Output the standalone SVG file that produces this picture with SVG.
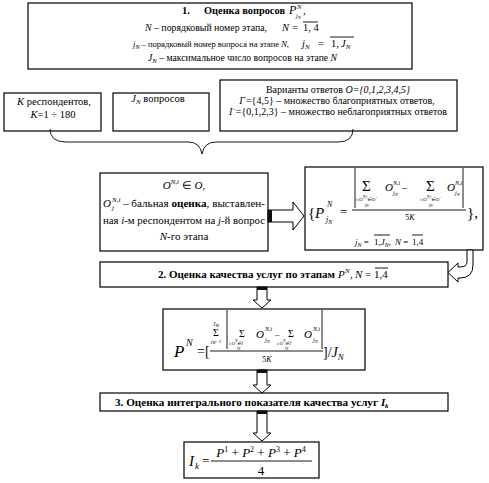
<svg xmlns="http://www.w3.org/2000/svg" width="489" height="483" viewBox="0 0 489 483" font-family="'Liberation Serif', 'Times New Roman', serif">
<style>
.t{font-family:"Liberation Serif","Times New Roman",serif;fill:#000}
.b{font-weight:bold}
.i{font-style:italic}
.box{fill:#fff;stroke:#000;stroke-width:1.2}
.arr{fill:#fff;stroke:#000;stroke-width:1}
.ln{stroke:#000;stroke-width:0.9;fill:none}
.tail{fill:#111}
</style>
<rect width="489" height="483" fill="#fff"/>

<g id="node-stage1">
<rect class="box" x="28" y="3" width="384" height="66"/>
<text class="t b" x="182" y="14" font-size="10.5">1.</text>
<text class="t b" x="204" y="14" font-size="10.5" textLength="81" lengthAdjust="spacingAndGlyphs">Оценка вопросов</text>
<text class="t i" x="289" y="14" font-size="12">P</text>
<text class="t i" x="297" y="9" font-size="6.5">N</text>
<text class="t i" x="296" y="18" font-size="6">j<tspan font-size="4.5" dy="1">N</tspan></text>
<text class="t" x="303" y="14" font-size="11">,</text>
<text class="t" x="145" y="31" font-size="10" textLength="122" lengthAdjust="spacingAndGlyphs"><tspan class="i">N</tspan> – порядковый номер этапа,</text>
<text class="t i" x="282" y="31" font-size="10.5">N</text>
<text class="t" x="292" y="31" font-size="10.5">=</text>
<text class="t" x="303" y="31" font-size="10.5">1, 4</text>
<line class="ln" x1="303" y1="22" x2="318" y2="22"/>
<text class="t" x="133" y="47" font-size="9" textLength="156" lengthAdjust="spacingAndGlyphs"><tspan class="i">j</tspan><tspan class="i" font-size="6.5" dy="2">N</tspan><tspan dy="-2"> – порядковый номер вопроса на этапе </tspan><tspan class="i">N</tspan>,</text>
<text class="t i" x="302" y="47" font-size="10.5">j<tspan font-size="7" dy="2">N</tspan></text>
<text class="t" x="318" y="47" font-size="10.5">=</text>
<text class="t" x="331" y="47" font-size="10.5">1,</text>
<text class="t i" x="341" y="47" font-size="10.5">J<tspan font-size="7" dy="2">N</tspan></text>
<line class="ln" x1="330" y1="37" x2="354" y2="37"/>
<text class="t" x="148" y="61" font-size="10" textLength="189" lengthAdjust="spacingAndGlyphs"><tspan class="i">J</tspan><tspan class="i" font-size="7" dy="2">N</tspan><tspan dy="-2"> – максимальное число вопросов на этапе </tspan><tspan class="i">N</tspan></text>
</g>

<g id="node-respondents">
<rect class="box" x="4" y="93" width="97" height="38"/>
<text class="t" x="54" y="105" font-size="10.5" text-anchor="middle"><tspan class="i">К</tspan> респондентов,</text>
<text class="t" x="53" y="118" font-size="10.5" text-anchor="middle"><tspan class="i">К</tspan>=1 ÷ 180</text>
</g>

<g id="node-questions">
<rect class="box" x="113" y="93" width="96" height="38"/>
<text class="t" x="158" y="102" font-size="10.5" text-anchor="middle"><tspan class="i">J</tspan><tspan class="i" font-size="7" dy="2">N</tspan><tspan dy="-2"> вопросов</tspan></text>
</g>

<g id="node-variants">
<rect class="box" x="220" y="80" width="237" height="51"/>
<text class="t" x="338" y="93" font-size="10" text-anchor="middle">Варианты ответов  <tspan class="i">O={0,1,2,3,4,5}</tspan></text>
<text class="t" x="337" y="104" font-size="10" text-anchor="middle"><tspan class="i">I</tspan><tspan font-size="6" dy="-4">+</tspan><tspan dy="4">={4,5} – множество благоприятных ответов,</tspan></text>
<text class="t" x="338" y="115" font-size="10" text-anchor="middle"><tspan class="i">I</tspan><tspan font-size="6" dy="-4">−</tspan><tspan dy="4">={0,1,2,3} –  множество неблагоприятных ответов</tspan></text>
</g>

<g id="node-score">
<rect class="box" x="100" y="173" width="168" height="78"/>
<text class="t" x="184" y="189" font-size="11" text-anchor="middle"><tspan class="i">O</tspan><tspan class="i" font-size="7" dy="-5">N,i</tspan><tspan dy="5"> ∈ </tspan><tspan class="i">O</tspan>,</text>
<text class="t i" x="103" y="207" font-size="11">O</text>
<text class="t i" x="112" y="202" font-size="7">N,i</text>
<text class="t i" x="112" y="210" font-size="7">j</text>
<text class="t" x="123" y="207" font-size="11" textLength="142" lengthAdjust="spacingAndGlyphs">– бальная <tspan class="b">оценка</tspan>, выставлен-</text>
<text class="t" x="103" y="224" font-size="11" textLength="162" lengthAdjust="spacingAndGlyphs">ная <tspan class="i">i</tspan>-м респондентом на <tspan class="i">j</tspan>-й вопрос</text>
<text class="t" x="184" y="240" font-size="11" text-anchor="middle"><tspan class="i">N</tspan>-го этапа</text>
</g>

<g id="node-pjn">
<rect class="box" x="305" y="167" width="178" height="83"/>
<text class="t" x="308" y="218" font-size="15">{</text>
<text class="t i" x="315" y="218" font-size="15">P</text>
<text class="t i" x="327" y="207" font-size="8">N</text>
<text class="t i" x="326" y="222" font-size="8">j<tspan font-size="6" dy="2">N</tspan></text>
<text class="t" x="340" y="216" font-size="13">=</text>
<line class="ln" x1="355" y1="168" x2="355" y2="208"/>
<line class="ln" x1="463" y1="168" x2="463" y2="208"/>
<line class="ln" x1="352" y1="210" x2="466" y2="210"/>
<text class="t" x="362" y="191" font-size="15">Σ</text>
<text class="t i" x="356" y="201" font-size="5">i:O<tspan font-size="4" dy="-3">N,i</tspan><tspan dy="3">∈O</tspan><tspan font-size="4" dy="-2">+</tspan></text>
<text class="t i" x="365" y="206" font-size="4.5">j<tspan font-size="3.5" dy="1">N</tspan></text>
<text class="t i" x="385" y="191" font-size="11">O</text>
<text class="t i" x="393" y="185" font-size="6">N,i</text>
<text class="t i" x="393" y="195" font-size="6">j<tspan font-size="4.5" dy="1">N</tspan></text>
<text class="t" x="402" y="191" font-size="10">–</text>
<text class="t" x="426" y="191" font-size="15">Σ</text>
<text class="t i" x="420" y="201" font-size="5">i:O<tspan font-size="4" dy="-3">N,i</tspan><tspan dy="3">∈O</tspan><tspan font-size="4" dy="-2">−</tspan></text>
<text class="t i" x="429" y="206" font-size="4.5">j<tspan font-size="3.5" dy="1">N</tspan></text>
<text class="t i" x="447" y="191" font-size="11">O</text>
<text class="t i" x="455" y="185" font-size="6">N,i</text>
<text class="t i" x="455" y="195" font-size="6">j<tspan font-size="4.5" dy="1">N</tspan></text>
<text class="t" x="410" y="220" font-size="8" text-anchor="middle">5<tspan class="i">K</tspan></text>
<text class="t" x="467" y="218" font-size="15">},</text>
<text class="t" x="355" y="245" font-size="9"><tspan class="i">j</tspan><tspan class="i" font-size="6" dy="2">N</tspan><tspan dy="-2"> =</tspan></text>
<text class="t" x="374" y="245" font-size="9">1,<tspan class="i">J</tspan><tspan class="i" font-size="6" dy="2">N</tspan><tspan dy="-2">,</tspan></text>
<text class="t" x="395" y="245" font-size="9"><tspan class="i">N</tspan> =</text>
<text class="t" x="412" y="245" font-size="9">1,4</text>
<line class="ln" x1="374" y1="235" x2="390" y2="235"/>
<line class="ln" x1="412" y1="235" x2="423" y2="235"/>
</g>

<g id="node-stage2">
<rect class="box" x="100" y="262" width="348" height="25"/>
<text class="t b" x="158" y="278" font-size="10.5" textLength="177" lengthAdjust="spacingAndGlyphs">2. Оценка качества услуг по этапам</text>
<text class="t i" x="338" y="278" font-size="11">P</text>
<text class="t i" x="345" y="273" font-size="7">N</text>
<text class="t" x="350" y="278" font-size="11">,</text>
<text class="t" x="355" y="278" font-size="11"><tspan class="i">N</tspan> = 1,4</text>
<line class="ln" x1="375" y1="268" x2="388" y2="268"/>
</g>

<g id="node-pn">
<rect class="box" x="163" y="309" width="202" height="61"/>
<text class="t i" x="174" y="357" font-size="17">P</text>
<text class="t i" x="186" y="346" font-size="10">N</text>
<text class="t" x="197" y="356" font-size="14">=[</text>
<line class="ln" x1="210" y1="351" x2="323" y2="351"/>
<text class="t i" x="213" y="326" font-size="5.5">J<tspan font-size="4" dy="1">M</tspan></text>
<text class="t" x="213" y="336" font-size="10">Σ</text>
<text class="t i" x="211" y="343" font-size="5">j<tspan font-size="3.5" dy="1">M</tspan><tspan dy="-1">=1</tspan></text>
<line class="ln" x1="227" y1="310" x2="227" y2="349"/>
<line class="ln" x1="322" y1="310" x2="322" y2="349"/>
<text class="t" x="239" y="337" font-size="10">Σ</text>
<text class="t i" x="229" y="345" font-size="4.5">i:O<tspan font-size="3.5" dy="-3">N</tspan><tspan dy="3">∈I</tspan><tspan font-size="3.5" dy="-2">+</tspan></text>
<text class="t i" x="237" y="349" font-size="4">j<tspan font-size="3" dy="1">N</tspan></text>
<text class="t i" x="256" y="338" font-size="11">O</text>
<text class="t i" x="265" y="331" font-size="6">N,i</text>
<text class="t i" x="265" y="342" font-size="6">j<tspan font-size="4.5" dy="1">N</tspan></text>
<text class="t" x="275" y="337" font-size="9">–</text>
<text class="t" x="288" y="337" font-size="10">Σ</text>
<text class="t i" x="277" y="345" font-size="4.5">i:O<tspan font-size="3.5" dy="-3">N</tspan><tspan dy="3">∈I</tspan><tspan font-size="3.5" dy="-2">−</tspan></text>
<text class="t i" x="285" y="349" font-size="4">j<tspan font-size="3" dy="1">N</tspan></text>
<text class="t i" x="304" y="338" font-size="11">O</text>
<text class="t i" x="313" y="331" font-size="6">N,i</text>
<text class="t i" x="313" y="342" font-size="6">j<tspan font-size="4.5" dy="1">N</tspan></text>
<text class="t" x="267" y="362" font-size="8" text-anchor="middle">5<tspan class="i">K</tspan></text>
<text class="t" x="323" y="357" font-size="14">]/<tspan class="i">J</tspan><tspan class="i" font-size="9" dy="3">N</tspan></text>
</g>

<g id="node-stage3">
<rect class="box" x="100" y="393" width="348" height="18"/>
<text class="t b" x="115" y="406" font-size="10.5" textLength="263" lengthAdjust="spacingAndGlyphs">3. Оценка интегрального показателя качества услуг</text>
<text class="t b i" x="381" y="406" font-size="11">I</text>
<text class="t b i" x="385" y="408" font-size="7">k</text>
</g>

<g id="node-ik">
<rect class="box" x="184" y="442" width="135" height="36"/>
<text class="t i" x="189" y="466" font-size="15">I</text>
<text class="t i" x="195" y="469" font-size="9">k</text>
<text class="t" x="202" y="465" font-size="13">=</text>
<text class="t" x="261" y="457" font-size="13" text-anchor="middle"><tspan class="i">P</tspan><tspan font-size="8" dy="-5">1</tspan><tspan dy="5"> + </tspan><tspan class="i">P</tspan><tspan font-size="8" dy="-5">2</tspan><tspan dy="5"> + </tspan><tspan class="i">P</tspan><tspan font-size="8" dy="-5">3</tspan><tspan dy="5"> + </tspan><tspan class="i">P</tspan><tspan font-size="8" dy="-5">4</tspan></text>
<line class="ln" x1="211" y1="461" x2="312" y2="461"/>
<text class="t" x="261" y="475" font-size="13" text-anchor="middle">4</text>
</g>

<g id="connectors">
<path class="ln" d="M 50 129 Q 50 142 66 142 L 188 142 Q 200 142 202 154 Q 204 142 216 142 L 338 142 Q 353 142 353 129" stroke-width="1.1"/>
<polygon class="arr" points="268,210 293,210 293,202 304,216 293,230 293,222 268,222"/>
<rect class="tail" x="268" y="210" width="4" height="12"/>
<path class="arr" d="M 473 250 L 473 265 Q 473 278 460 278 L 458 278 L 458 282 L 448 272.5 L 458 263 L 458 267 L 460 267 Q 467 267 467 262 L 467 250 Z"/>
<polygon class="arr" points="257,287 267,287 267,300 271,300 262,308 253,300 257,300"/>
<rect class="tail" x="257" y="287" width="10" height="3"/>
<polygon class="arr" points="257,370 267,370 267,385 271,385 262,393 253,385 257,385"/>
<rect class="tail" x="257" y="370" width="10" height="3"/>
<polygon class="arr" points="257,411 267,411 267,433 271,433 262,441 253,433 257,433"/>
<rect class="tail" x="257" y="411" width="10" height="3"/>
</g>
</svg>
